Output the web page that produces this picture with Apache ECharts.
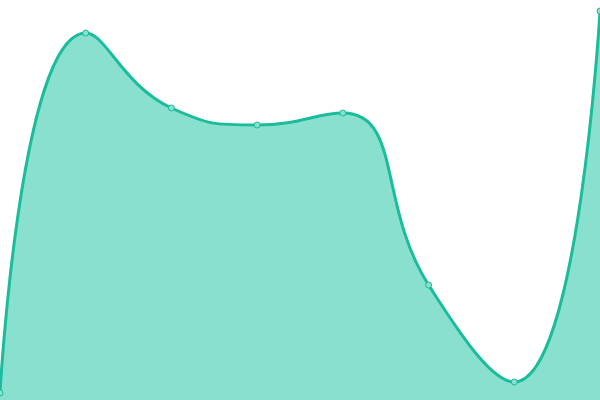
<!DOCTYPE html>
<html><head><meta charset="utf-8">
<script src="https://cdn.jsdelivr.net/npm/echarts@6/dist/echarts.min.js"></script>
<style>html,body{margin:0;padding:0;background:#fff}#c{width:600px;height:400px}</style>
</head><body><div id="c"></div>
<script>
var categories = ['1','2','3','4','5','6','7','8'];
var values = [7, 367, 292, 275, 287, 115, 18, 389];
var chart = echarts.init(document.getElementById('c'));
chart.setOption({
  animation: false,
  grid: {left: 0, right: 0, top: 0, bottom: 0},
  xAxis: {type: 'category', data: categories, boundaryGap: false, show: false},
  yAxis: {type: 'value', min: 0, max: 400, show: false},
  series: [{
    type: 'line',
    data: values,
    smooth: true,
    symbol: 'circle',
    symbolSize: 6,
    itemStyle: {color: '#8ae0cf', borderColor: '#1abc9c', borderWidth: 1},
    lineStyle: {color: '#1abc9c', width: 3},
    areaStyle: {color: '#8ae0cf', opacity: 1}
  }]
});
</script></body></html>
